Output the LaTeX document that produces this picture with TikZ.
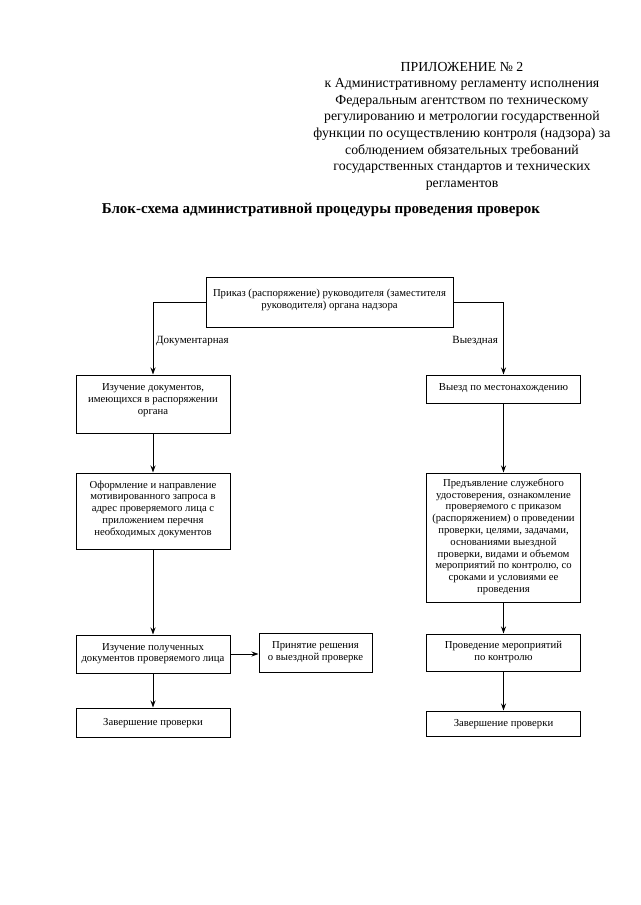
\documentclass[tikz,border=0pt]{standalone}
\usepackage{fontspec}
\setmainfont{Liberation Serif}
\usetikzlibrary{arrows.meta}
\begin{document}
\begin{tikzpicture}[x=1pt,y=-1pt,
  bx/.style={draw, line width=1pt, align=center, inner sep=0pt,
    font=\fontsize{10.7}{11.8}\selectfont},
  conn/.style={line width=1pt, -{Stealth[length=7pt,width=5pt]}},
  lbl/.style={font=\fontsize{11}{12}\selectfont, inner sep=0pt}]
\useasboundingbox[fill=white] (0,0) rectangle (640,905);

\node[align=center, font=\fontsize{13.8}{16.6}\selectfont, inner sep=0pt] (hdr) at (462,126)
 {ПРИЛОЖЕНИЕ № 2\\
  к Административному регламенту исполнения\\
  Федеральным агентством по техническому\\
  регулированию и метрологии государственной\\
  функции по осуществлению контроля (надзора) за\\
  соблюдением обязательных требований\\
  государственных стандартов и технических\\
  регламентов};

\node[font=\bfseries\fontsize{15}{18}\selectfont, inner sep=0pt] (ttl) at (321,210)
 {Блок-схема административной процедуры проведения проверок};

\node[bx, minimum width=247, minimum height=50, text depth=7pt] (top) at (329.5,302)
 {Приказ (распоряжение) руководителя (заместителя\\руководителя) органа надзора};

\node[bx, minimum width=154, minimum height=58, text depth=10pt] (l1) at (153,404)
 {Изучение документов,\\имеющихся в распоряжении\\органа};
\node[bx, minimum width=154, minimum height=76, text depth=6pt] (l2) at (153,511)
 {Оформление и направление\\мотивированного запроса в\\адрес проверяемого лица с\\приложением перечня\\необходимых документов};
\node[bx, minimum width=154, minimum height=38, text depth=3pt] (l3) at (153,654)
 {Изучение полученных\\документов проверяемого лица};
\node[bx, minimum width=113, minimum height=39, text depth=3pt] (p) at (315.5,652.5)
 {Принятие решения\\о выездной проверке};
\node[bx, minimum width=154, minimum height=29, text height=6pt, text depth=0pt] (l4) at (153,722.5)
 {Завершение проверки};

\node[bx, minimum width=154, minimum height=28, text depth=5pt] (r1) at (503.5,389)
 {Выезд по местонахождению};
\node[bx, minimum width=154, minimum height=129, text depth=4pt] (r2) at (503.5,537.5)
 {Предъявление служебного\\удостоверения, ознакомление\\проверяемого с приказом\\(распоряжением) о проведении\\проверки, целями, задачами,\\основаниями выездной\\проверки, видами и объемом\\мероприятий по контролю, со\\сроками и условиями ее\\проведения};
\node[bx, minimum width=154, minimum height=37, text depth=3pt] (r3) at (503.5,652.5)
 {Проведение мероприятий\\по контролю};
\node[bx, minimum width=154, minimum height=25, text height=7pt, text depth=1pt] (r4) at (503.5,723.5)
 {Завершение проверки};

\node[lbl, anchor=west] (ldoc) at (156,341) {Документарная};
\node[lbl, anchor=east] (lvyez) at (498,341) {Выездная};

\draw[conn] (top.west) -| (l1.north);
\draw[conn] (top.east) -| (r1.north);
\draw[conn] (l1) -- (l2);
\draw[conn] (l2) -- (l3);
\draw[conn] (l3) -- (l4);
\draw[conn] (l3.east) -- (p.west |- l3.east);
\draw[conn] (r1) -- (r2);
\draw[conn] (r2) -- (r3);
\draw[conn] (r3) -- (r4);
\end{tikzpicture}
\end{document}
